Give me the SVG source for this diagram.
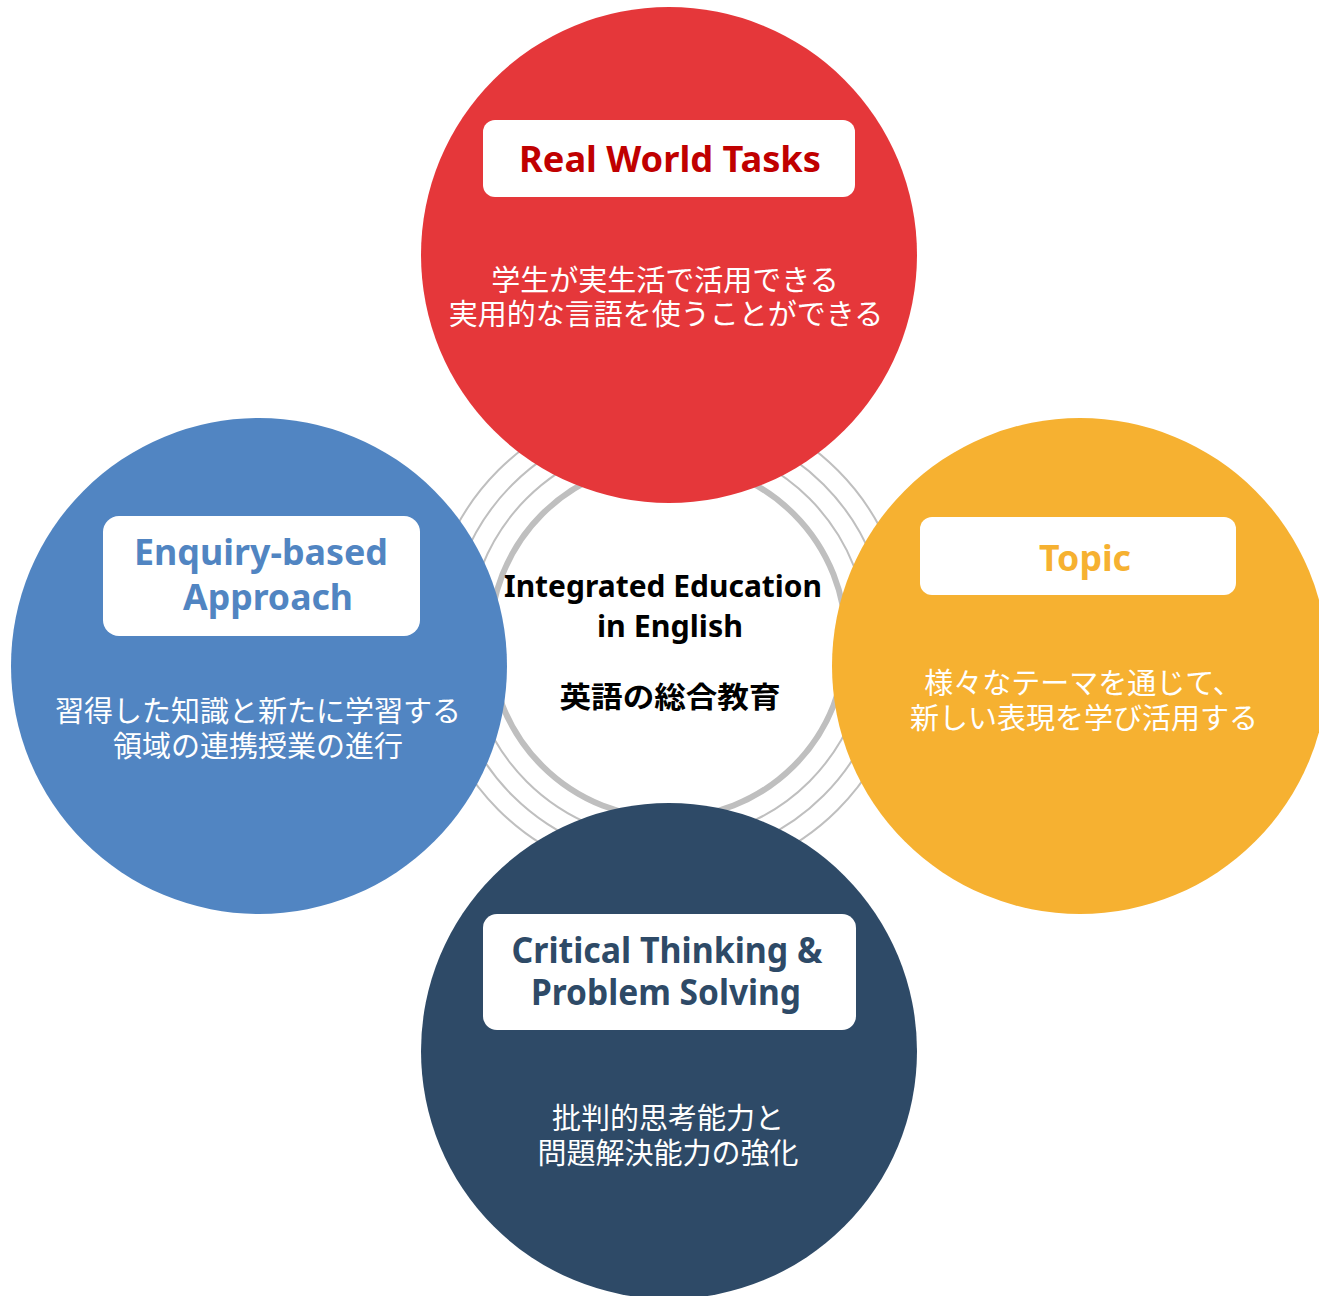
<svg xmlns="http://www.w3.org/2000/svg" width="1319" height="1296" viewBox="0 0 1319 1296">
<style>
.ring{fill:none;stroke:#BFBFBF;stroke-width:2}
.ringk{fill:none;stroke:#BFBFBF;stroke-width:6}
.box{fill:#FFFFFF}
.ttl{font-family:"Noto Sans","Open Sans","Liberation Sans",sans-serif;font-weight:bold;font-size:35px;text-anchor:middle}
.desc{font-family:"Noto Sans CJK JP","Noto Sans",sans-serif;font-size:29px;fill:#FFFFFF;text-anchor:middle}
.ctr{font-family:"Noto Sans","Open Sans","Liberation Sans",sans-serif;font-weight:bold;font-size:30px;fill:#000000;text-anchor:middle}
.ctrj{font-family:"Noto Sans CJK JP",sans-serif;font-weight:bold;font-size:29px;fill:#000000;text-anchor:middle}
</style>
<rect width="1319" height="1296" fill="#FFFFFF"/>
<g id="connectors">
<circle class="ring" cx="668" cy="640" r="240"/>
<circle class="ring" cx="668" cy="640" r="220"/>
<circle class="ring" cx="668" cy="640" r="200"/>
<circle class="ringk" cx="668" cy="640" r="178" fill="#FFFFFF"/>
</g>
<g id="center">
<text class="ctr" x="663" y="597" textLength="318" lengthAdjust="spacingAndGlyphs">Integrated Education</text>
<text class="ctr" x="670" y="637" textLength="146" lengthAdjust="spacingAndGlyphs">in English</text>
<text class="ctrj" x="670" y="708" textLength="221" lengthAdjust="spacingAndGlyphs">英語の総合教育</text>
</g>
<g id="real-world-tasks">
<circle cx="669" cy="255" r="248" fill="#E5373A"/>
<rect class="box" x="483" y="120" width="372" height="77" rx="12"/>
<text class="ttl" x="670" y="172" fill="#C00000" textLength="302" lengthAdjust="spacingAndGlyphs">Real World Tasks</text>
<text class="desc" x="665" y="291">学生が実生活で活用できる</text>
<text class="desc" x="666" y="325">実用的な言語を使うことができる</text>
</g>
<g id="enquiry-based-approach">
<circle cx="259" cy="666" r="248" fill="#5185C2"/>
<rect class="box" x="103" y="516" width="317" height="120" rx="16"/>
<text class="ttl" x="261" y="565" fill="#5185C2" textLength="254" lengthAdjust="spacingAndGlyphs">Enquiry-based</text>
<text class="ttl" x="268" y="610" fill="#5185C2" textLength="170" lengthAdjust="spacingAndGlyphs">Approach</text>
<text class="desc" x="258" y="722">習得した知識と新たに学習する</text>
<text class="desc" x="258" y="757">領域の連携授業の進行</text>
</g>
<g id="topic">
<circle cx="1080" cy="666" r="248" fill="#F6B131"/>
<rect class="box" x="920" y="517" width="316" height="78" rx="12"/>
<text class="ttl" x="1085" y="571" fill="#F6B131" textLength="92" lengthAdjust="spacingAndGlyphs">Topic</text>
<text class="desc" x="1083" y="694">様々なテーマを通じて、</text>
<text class="desc" x="1084" y="729">新しい表現を学び活用する</text>
</g>
<g id="critical-thinking">
<circle cx="669" cy="1051" r="248" fill="#2E4A67"/>
<rect class="box" x="483" y="914" width="373" height="116" rx="14"/>
<text class="ttl" x="667" y="963" fill="#2E4A67" textLength="311" lengthAdjust="spacingAndGlyphs">Critical Thinking &amp;</text>
<text class="ttl" x="666" y="1005" fill="#2E4A67" textLength="270" lengthAdjust="spacingAndGlyphs">Problem Solving</text>
<text class="desc" x="668" y="1129">批判的思考能力と</text>
<text class="desc" x="668" y="1164">問題解決能力の強化</text>
</g>
</svg>
